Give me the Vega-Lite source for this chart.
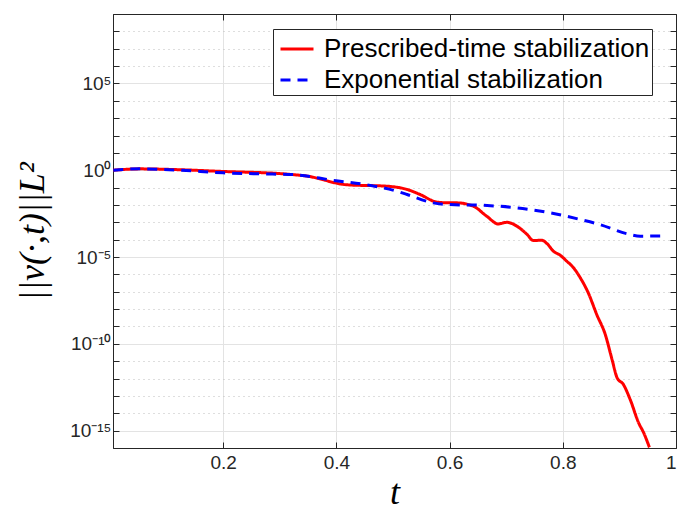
{
  "$schema": "https://vega.github.io/schema/vega-lite/v6.json",
  "width": 563,
  "height": 434,
  "autosize": {"type": "none"},
  "padding": {"left": 113, "top": 14, "right": 2, "bottom": 63},
  "background": "white",
  "config": {
    "view": {"stroke": "#262626", "strokeWidth": 1},
    "font": "Liberation Sans",
    "legend": {
      "orient": "none",
      "legendX": 160,
      "legendY": 15,
      "symbolType": "stroke",
      "symbolSize": 1089,
      "symbolStrokeWidth": 3,
      "symbolOffset": 4,
      "labelFontSize": 26,
      "labelFont": "Liberation Sans",
      "labelColor": "black",
      "labelLimit": 600,
      "strokeColor": "#262626",
      "fillColor": "white",
      "padding": 2,
      "rowPadding": 0,
      "labelOffset": 9
    }
  },
  "data": {
    "values": [
      {"series": "Prescribed-time stabilization", "t": 0.006, "v": 1},
      {"series": "Prescribed-time stabilization", "t": 0.053, "v": 1.2},
      {"series": "Prescribed-time stabilization", "t": 0.124, "v": 1.07},
      {"series": "Prescribed-time stabilization", "t": 0.2, "v": 0.85},
      {"series": "Prescribed-time stabilization", "t": 0.306, "v": 0.62},
      {"series": "Prescribed-time stabilization", "t": 0.348, "v": 0.46},
      {"series": "Prescribed-time stabilization", "t": 0.419, "v": 0.145},
      {"series": "Prescribed-time stabilization", "t": 0.49, "v": 0.12},
      {"series": "Prescribed-time stabilization", "t": 0.525, "v": 0.078},
      {"series": "Prescribed-time stabilization", "t": 0.548, "v": 0.04},
      {"series": "Prescribed-time stabilization", "t": 0.578, "v": 0.0145},
      {"series": "Prescribed-time stabilization", "t": 0.6, "v": 0.0132},
      {"series": "Prescribed-time stabilization", "t": 0.613, "v": 0.0132},
      {"series": "Prescribed-time stabilization", "t": 0.642, "v": 0.0085},
      {"series": "Prescribed-time stabilization", "t": 0.666, "v": 0.0022},
      {"series": "Prescribed-time stabilization", "t": 0.686, "v": 0.00081},
      {"series": "Prescribed-time stabilization", "t": 0.701, "v": 0.001},
      {"series": "Prescribed-time stabilization", "t": 0.719, "v": 0.0006},
      {"series": "Prescribed-time stabilization", "t": 0.737, "v": 0.0002},
      {"series": "Prescribed-time stabilization", "t": 0.748, "v": 0.000089},
      {"series": "Prescribed-time stabilization", "t": 0.763, "v": 0.000093},
      {"series": "Prescribed-time stabilization", "t": 0.772, "v": 0.00006},
      {"series": "Prescribed-time stabilization", "t": 0.784, "v": 0.000021},
      {"series": "Prescribed-time stabilization", "t": 0.795, "v": 0.000013},
      {"series": "Prescribed-time stabilization", "t": 0.807, "v": 0.0000058},
      {"series": "Prescribed-time stabilization", "t": 0.819, "v": 0.0000024},
      {"series": "Prescribed-time stabilization", "t": 0.831, "v": 6.3e-7},
      {"series": "Prescribed-time stabilization", "t": 0.845, "v": 8.7e-8},
      {"series": "Prescribed-time stabilization", "t": 0.86, "v": 4.9e-9},
      {"series": "Prescribed-time stabilization", "t": 0.875, "v": 3.5e-10},
      {"series": "Prescribed-time stabilization", "t": 0.887, "v": 1.26e-11},
      {"series": "Prescribed-time stabilization", "t": 0.896, "v": 1.1e-12},
      {"series": "Prescribed-time stabilization", "t": 0.907, "v": 4.6e-13},
      {"series": "Prescribed-time stabilization", "t": 0.919, "v": 6.3e-14},
      {"series": "Prescribed-time stabilization", "t": 0.934, "v": 2.8e-15},
      {"series": "Prescribed-time stabilization", "t": 0.943, "v": 7.4e-16},
      {"series": "Prescribed-time stabilization", "t": 0.953, "v": 1.1e-16},
      {"series": "Exponential stabilization", "t": 0.006, "v": 1},
      {"series": "Exponential stabilization", "t": 0.053, "v": 1.2},
      {"series": "Exponential stabilization", "t": 0.124, "v": 1.0},
      {"series": "Exponential stabilization", "t": 0.2, "v": 0.71},
      {"series": "Exponential stabilization", "t": 0.265, "v": 0.62},
      {"series": "Exponential stabilization", "t": 0.324, "v": 0.56},
      {"series": "Exponential stabilization", "t": 0.395, "v": 0.26},
      {"series": "Exponential stabilization", "t": 0.454, "v": 0.145},
      {"series": "Exponential stabilization", "t": 0.513, "v": 0.054},
      {"series": "Exponential stabilization", "t": 0.525, "v": 0.04},
      {"series": "Exponential stabilization", "t": 0.571, "v": 0.0132},
      {"series": "Exponential stabilization", "t": 0.601, "v": 0.0105},
      {"series": "Exponential stabilization", "t": 0.66, "v": 0.0095},
      {"series": "Exponential stabilization", "t": 0.719, "v": 0.0068},
      {"series": "Exponential stabilization", "t": 0.778, "v": 0.0035},
      {"series": "Exponential stabilization", "t": 0.831, "v": 0.00145},
      {"series": "Exponential stabilization", "t": 0.866, "v": 0.00074},
      {"series": "Exponential stabilization", "t": 0.913, "v": 0.00022},
      {"series": "Exponential stabilization", "t": 0.937, "v": 0.00016},
      {"series": "Exponential stabilization", "t": 0.983, "v": 0.000166}
    ]
  },
  "layer": [
    {
      "mark": {"type": "line", "strokeWidth": 3, "clip": true, "interpolate": "monotone"},
      "encoding": {
        "x": {
          "field": "t", "type": "quantitative",
          "scale": {"domain": [0.0055, 1], "nice": false, "zero": false},
          "axis": {
            "orient": "bottom",
            "values": [0.2, 0.4, 0.6, 0.8, 1],
            "format": "~g",
            "grid": true, "gridColor": "#e3e3e3", "gridWidth": 1,
            "tickSize": -6, "tickColor": "#262626",
            "domainColor": "#262626",
            "labelFontSize": 19, "labelColor": "#262626", "labelPadding": 11,
            "labelFont": "Liberation Sans",
            "title": "t", "titleFont": "Liberation Serif", "titleFontStyle": "italic",
            "titleFontSize": 36, "titleFontWeight": "normal", "titleColor": "black",
            "titlePadding": 3
          }
        },
        "y": {
          "field": "v", "type": "quantitative",
          "scale": {"type": "log", "domain": [1e-16, 1e9], "nice": false},
          "axis": {
            "orient": "left",
            "values": [1e-15, 1e-14, 1e-13, 1e-12, 1e-11, 1e-10, 1e-9, 1e-8, 1e-7, 1e-6, 1e-5, 1e-4, 1e-3, 1e-2, 1e-1, 1, 10, 100, 1000, 1e4, 1e5, 1e6, 1e7, 1e8],
            "labelExpr": "round(log(datum.value)/LN10) === 5 ? '10⁵' : round(log(datum.value)/LN10) === 0 ? '10⁰' : round(log(datum.value)/LN10) === -5 ? '10⁻⁵' : round(log(datum.value)/LN10) === -10 ? '10⁻¹⁰' : round(log(datum.value)/LN10) === -15 ? '10⁻¹⁵' : ''",
            "grid": true,
            "gridColor": {"condition": {"test": "round(log(datum.value)/LN10) % 5 === 0", "value": "#e3e3e3"}, "value": "#bdbdbd"},
            "gridDash": {"condition": {"test": "round(log(datum.value)/LN10) % 5 === 0", "value": []}, "value": [1, 4]},
            "tickSize": -6, "tickColor": "#262626",
            "domainColor": "#262626",
            "labelFontSize": 19, "labelColor": "#262626", "labelPadding": 8,
            "labelFont": "Liberation Sans",
            "title": "||v(·,t)||L²", "titleFont": "Liberation Serif", "titleFontStyle": "italic",
            "titleFontSize": 36, "titleFontWeight": "normal", "titleColor": "black",
            "titlePadding": 18
          }
        },
        "color": {
          "field": "series", "type": "nominal", "title": null,
          "scale": {"domain": ["Prescribed-time stabilization", "Exponential stabilization"], "range": ["#ff0000", "#0000ff"]},
          "legend": {"labelExpr": "datum.label + '\u00a0\u00a0'"}
        },
        "strokeDash": {
          "field": "series", "type": "nominal", "title": null,
          "scale": {"domain": ["Prescribed-time stabilization", "Exponential stabilization"], "range": [[1, 0], [10, 7]]},
          "legend": {"labelExpr": "datum.label + '\u00a0\u00a0'"}
        }
      }
    },
    {
      "mark": {"type": "line", "opacity": 0},
      "encoding": {
        "x": {
          "field": "t", "type": "quantitative",
          "axis": {"orient": "top", "values": [0.2, 0.4, 0.6, 0.8, 1], "labels": false, "grid": false, "tickSize": -6, "tickColor": "#262626", "domainColor": "#262626", "title": null}
        },
        "y": {
          "field": "v", "type": "quantitative",
          "axis": {"orient": "right", "values": [1e-15, 1e-14, 1e-13, 1e-12, 1e-11, 1e-10, 1e-9, 1e-8, 1e-7, 1e-6, 1e-5, 1e-4, 1e-3, 1e-2, 1e-1, 1, 10, 100, 1000, 1e4, 1e5, 1e6, 1e7, 1e8], "labels": false, "grid": false, "tickSize": -6, "tickColor": "#262626", "domainColor": "#262626", "title": null}
        },
        "detail": {"field": "series", "type": "nominal"}
      }
    }
  ],
  "resolve": {"axis": {"x": "independent", "y": "independent"}}
}
